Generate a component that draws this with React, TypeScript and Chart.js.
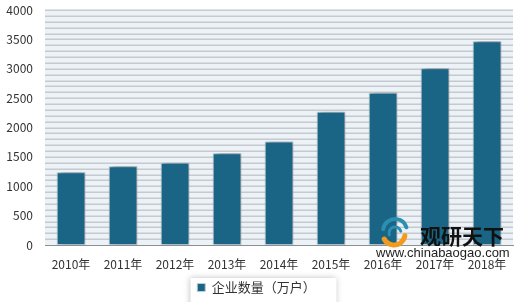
import React, { useEffect, useRef } from "react";
import { Chart, registerables } from "chart.js";

Chart.register(...registerables);

const categories = ["2010年", "2011年", "2012年", "2013年", "2014年", "2015年", "2016年", "2017年", "2018年"];
const seriesName = "企业数量（万户）";
const values = [1240, 1340, 1400, 1560, 1760, 2270, 2590, 3010, 3470];
const yMax = 4000;
const yGridStep = 100;
const yLabelStep = 500;
const watermarkTitle = "观研天下";
const watermarkUrl = "www.chinabaogao.com";

const FONT = "'Noto Sans CJK SC', 'Liberation Sans', sans-serif";

const plotBg = {
  id: "plotBg",
  beforeDraw(chart: any) {
    const { ctx, chartArea: a } = chart;
    ctx.save();
    ctx.fillStyle = "#edf2f7";
    ctx.fillRect(a.left, a.top, a.right - a.left, a.bottom - a.top);
    const ys = chart.scales.y;
    ctx.strokeStyle = "#c4cad0";
    ctx.lineWidth = 1.5;
    for (let v = yGridStep; v <= yMax; v += yGridStep) {
      const py = Math.round(ys.getPixelForValue(v)) + 0.25;
      ctx.beginPath();
      ctx.moveTo(a.left, py);
      ctx.lineTo(a.right, py);
      ctx.stroke();
    }
    const lg = chart.legend;
    if (lg) {
      ctx.shadowColor = "rgba(0,0,0,0.25)";
      ctx.shadowBlur = 6;
      ctx.shadowOffsetX = -1;
      ctx.shadowOffsetY = 0;
      ctx.fillStyle = "#ffffff";
      const cx = (lg.left + lg.right) / 2;
      ctx.fillRect(cx - 66, lg.top + 4, 146, 30);
    }
    ctx.restore();
  },
  beforeDatasetsDraw(chart: any) {
    const ctx = chart.ctx;
    ctx.save();
    ctx.shadowColor = "rgba(60,60,60,0.55)";
    ctx.shadowBlur = 5;
    ctx.shadowOffsetX = 2;
    ctx.shadowOffsetY = -1;
  },
  afterDatasetsDraw(chart: any) {
    chart.ctx.restore();
  },
  afterDraw(chart: any) {
    const ctx = chart.ctx;
    ctx.save();
    const lx = 393, ly = 233;
    ctx.lineCap = "round";
    ctx.strokeStyle = "#2a8fb0";
    ctx.lineWidth = 4;
    ctx.beginPath();
    ctx.arc(lx + 2, ly - 2, 12, Math.PI * 1.05, Math.PI * 1.9);
    ctx.stroke();
    ctx.lineWidth = 3;
    ctx.beginPath();
    ctx.arc(lx + 2, ly, 6, Math.PI * 0.9, Math.PI * 1.9);
    ctx.stroke();
    ctx.strokeStyle = "#f39a1e";
    ctx.lineWidth = 5;
    ctx.beginPath();
    ctx.arc(lx + 1, ly + 1, 11, Math.PI * 0.05, Math.PI * 0.85);
    ctx.stroke();
    ctx.fillStyle = "#111111";
    ctx.font = `bold 21px ${FONT}`;
    ctx.textBaseline = "middle";
    ctx.textAlign = "left";
    ctx.fillText(watermarkTitle, 420, 236);
    ctx.fillStyle = "#222222";
    ctx.font = `13px 'Liberation Sans', sans-serif`;
    ctx.fillText(watermarkUrl, 376, 253);
    ctx.restore();
  },
};

export default function App() {
  const ref = useRef<HTMLCanvasElement>(null);
  useEffect(() => {
    document.body.style.margin = "0";
    const chart = new Chart(ref.current!, {
      type: "bar",
      data: {
        labels: categories,
        datasets: [
          {
            label: seriesName,
            data: values,
            backgroundColor: "#1a6586",
            borderColor: "#b9cfd9",
            borderWidth: 1,
            borderSkipped: false,
            categoryPercentage: 1,
            barPercentage: 0.55,
          },
        ],
      },
      options: {
        animation: false,
        responsive: false,
        maintainAspectRatio: false,
        layout: { autoPadding: false, padding: { top: 10, right: 7, left: 0, bottom: -2 } },
        plugins: {
          legend: {
            position: "bottom",
            labels: {
              font: { family: FONT, size: 13 },
              color: "#333333",
              boxWidth: 8,
              boxHeight: 8,
              padding: 7,
            },
          },
          tooltip: { enabled: false },
        },
        scales: {
          x: {
            grid: { display: false, drawTicks: false },
            border: { display: true, color: "#8a8f94", width: 1 },
            ticks: { font: { family: FONT, size: 12 }, color: "#333333", padding: 12 },
            afterFit: (s: any) => {
              s.height = 29;
            },
          },
          y: {
            min: 0,
            max: yMax,
            grid: { display: false, drawTicks: false },
            border: { display: false },
            ticks: {
              stepSize: yLabelStep,
              padding: 12,
              font: { family: FONT, size: 12 },
              color: "#333333",
              callback: (v: any) => String(v),
            },
            afterFit: (s: any) => {
              s.width = 45;
              s.paddingTop = 0;
              s.paddingBottom = 0;
            },
          },
        },
      },
      plugins: [plotBg],
    });
    return () => chart.destroy();
  }, []);
  return <canvas ref={ref} width={520} height={302} style={{ display: "block" }} />;
}
